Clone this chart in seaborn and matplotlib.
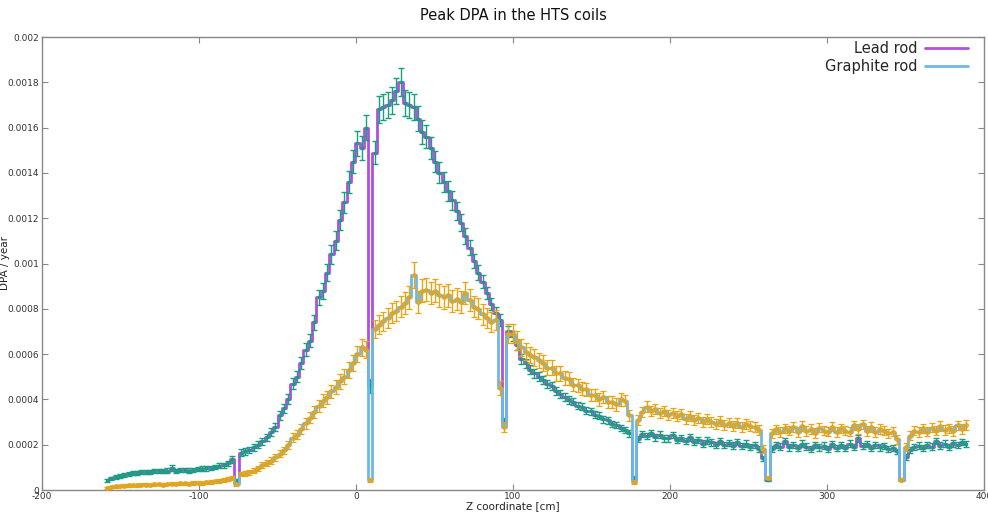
import numpy as np
import pandas as pd
import matplotlib
matplotlib.use("Agg")
import matplotlib.pyplot as plt
import seaborn as sns
from matplotlib.ticker import FuncFormatter, MultipleLocator

# ---- binning of the Z coordinate (cm) ----
BIN_START_CM = -160.0
BIN_WIDTH_CM = 2.75

# ---- peak DPA / year, in units of 1e-6 ----
lead_e6 = [
    42, 52, 58, 62, 66, 70, 74, 76, 78, 80,
    79, 82, 84, 83, 86, 98, 85, 87, 88, 86,
    90, 92, 94, 96, 98, 101, 106, 110, 118, 135,
    42, 165, 170, 178, 188, 200, 215, 232, 255, 278,
    330, 360, 400, 470, 500, 560, 620, 660, 740, 850,
    880, 960, 1040, 1100, 1190, 1270, 1360, 1450, 1530, 1510,
    1600, 460, 1490, 1680, 1690, 1700, 1720, 1760, 1800, 1710,
    1700, 1690, 1640, 1580, 1560, 1510, 1450, 1400, 1360, 1320,
    1280, 1230, 1180, 1120, 1070, 1010, 960, 920, 870, 820,
    780, 750, 300, 700, 680, 640, 580, 560, 530, 515,
    500, 485, 468, 460, 438, 425, 412, 398, 390, 372,
    368, 350, 348, 332, 328, 312, 308, 292, 288, 275,
    265, 250, 55, 225, 248, 238, 252, 232, 245, 228,
    228, 242, 222, 230, 215, 232, 212, 220, 205, 218,
    210, 200, 215, 198, 208, 196, 212, 194, 205, 190,
    198, 182, 140, 45, 180, 200, 192, 215, 188, 200,
    185, 205, 192, 182, 200, 188, 196, 180, 202, 186,
    198, 185, 205, 190, 228, 195, 202, 185, 200, 188,
    195, 180, 186, 170, 45, 145, 178, 190, 196, 184,
    200, 192, 215, 196, 205, 190, 206, 198, 212, 202,
]
lead_err_e6 = [
    7, 7, 8, 8, 8, 8, 9, 9, 9, 9,
    9, 9, 9, 9, 9, 12, 9, 9, 9, 9,
    9, 9, 10, 10, 10, 10, 11, 11, 12, 14,
    7, 14, 14, 14, 15, 15, 16, 16, 17, 18,
    20, 20, 22, 24, 24, 26, 28, 30, 32, 34,
    36, 38, 40, 42, 44, 46, 48, 50, 54, 52,
    55, 32, 52, 58, 58, 58, 58, 58, 62, 58,
    58, 58, 54, 52, 50, 50, 48, 46, 44, 44,
    42, 40, 38, 36, 34, 32, 32, 30, 28, 27,
    26, 26, 16, 24, 24, 22, 22, 20, 20, 20,
    19, 19, 18, 18, 18, 17, 17, 17, 16, 16,
    16, 16, 15, 15, 15, 15, 15, 14, 14, 14,
    14, 14, 7, 14, 14, 14, 14, 14, 14, 14,
    14, 14, 14, 14, 14, 14, 14, 14, 14, 14,
    14, 14, 14, 14, 14, 14, 14, 14, 14, 14,
    14, 14, 11, 7, 14, 14, 14, 14, 14, 14,
    14, 14, 14, 14, 14, 14, 14, 14, 14, 14,
    14, 14, 14, 14, 15, 14, 14, 14, 14, 14,
    14, 14, 14, 13, 7, 12, 14, 14, 14, 14,
    14, 14, 14, 14, 14, 14, 14, 14, 14, 14,
]
graphite_e6 = [
    10, 14, 16, 18, 19, 20, 22, 21, 23, 24,
    22, 25, 26, 24, 27, 28, 26, 29, 30, 28,
    31, 32, 30, 34, 36, 38, 40, 44, 48, 55,
    25, 70, 72, 78, 85, 95, 110, 118, 130, 145,
    160, 175, 200, 230, 245, 270, 295, 320, 345, 370,
    395, 410, 435, 455, 480, 500, 530, 560, 600, 630,
    620, 45, 710, 730, 745, 760, 780, 790, 810, 825,
    850, 950, 830, 880, 885, 870, 880, 860, 850, 860,
    835, 845, 830, 870, 840, 810, 800, 775, 760, 740,
    750, 450, 280, 690, 690, 660, 630, 610, 595, 585,
    572, 560, 540, 540, 515, 515, 495, 492, 465, 462,
    448, 445, 420, 420, 400, 412, 390, 390, 378, 400,
    395, 330, 35, 310, 345, 368, 350, 358, 340, 348,
    332, 342, 325, 335, 315, 328, 308, 318, 300, 312,
    302, 292, 306, 285, 298, 282, 296, 278, 290, 284,
    278, 265, 180, 55, 250, 268, 255, 272, 262, 278,
    255, 282, 260, 270, 252, 275, 262, 258, 280, 255,
    272, 262, 258, 285, 268, 290, 260, 278, 255, 270,
    262, 250, 258, 225, 45, 190, 240, 262, 255, 272,
    258, 275, 262, 282, 265, 272, 260, 285, 270, 288,
]
graphite_err_e6 = [
    5, 5, 5, 6, 6, 6, 6, 6, 6, 6,
    6, 6, 6, 6, 6, 7, 6, 7, 7, 7,
    7, 7, 7, 7, 8, 8, 8, 8, 9, 9,
    6, 10, 10, 11, 11, 12, 13, 13, 14, 15,
    16, 17, 18, 20, 22, 22, 24, 25, 26, 27,
    28, 29, 30, 31, 32, 33, 34, 35, 36, 38,
    38, 9, 40, 42, 42, 44, 44, 46, 47, 48,
    50, 58, 48, 50, 52, 50, 50, 50, 49, 50,
    48, 49, 48, 50, 48, 47, 46, 45, 44, 44,
    44, 32, 22, 42, 42, 40, 38, 37, 36, 36,
    35, 34, 34, 33, 32, 32, 31, 30, 30, 29,
    29, 28, 28, 27, 27, 26, 26, 26, 28, 27,
    26, 24, 7, 22, 23, 23, 23, 23, 23, 23,
    22, 22, 22, 22, 22, 22, 22, 22, 22, 22,
    22, 22, 22, 22, 22, 22, 22, 22, 22, 22,
    21, 21, 17, 7, 21, 21, 21, 21, 21, 21,
    21, 21, 21, 21, 21, 21, 21, 21, 21, 21,
    21, 21, 21, 21, 22, 21, 21, 21, 21, 21,
    21, 21, 21, 20, 7, 17, 21, 21, 21, 21,
    21, 21, 21, 21, 21, 21, 21, 21, 21, 21,
]

series_labels = ["Lead rod", "Graphite rod"]
title = "Peak DPA in the HTS coils"
xlabel = "Z coordinate [cm]"
ylabel = "DPA / year"

PURPLE = "#b24ee0"
GREEN = "#16a07e"
BLUE = "#6cb8e8"
ORANGE = "#e8a413"

n = len(lead_e6)
z = BIN_START_CM + BIN_WIDTH_CM * (np.arange(n) + 0.5)
df = pd.DataFrame({
    "z": z,
    "lead": np.array(lead_e6) * 1e-6,
    "lead_err": np.array(lead_err_e6) * 1e-6,
    "graphite": np.array(graphite_e6) * 1e-6,
    "graphite_err": np.array(graphite_err_e6) * 1e-6,
})

sns.set_style("white")
plt.rcParams["font.family"] = ["DejaVu Sans"]

W, H = 988, 519
fig = plt.figure(figsize=(W / 100, H / 100), dpi=100)
ax = fig.add_axes([42 / W, 29 / H, 942 / W, 453 / H])

sns.lineplot(data=df, x="z", y="lead", ax=ax, color=PURPLE, lw=2.0,
             drawstyle="steps-mid", estimator=None, label=series_labels[0],
             zorder=2)
ax.errorbar(df["z"], df["lead"], yerr=df["lead_err"], fmt="s", ms=2.0,
            color=GREEN, ecolor=GREEN, elinewidth=1.0, capsize=2.0,
            capthick=1.0, zorder=3)
sns.lineplot(data=df, x="z", y="graphite", ax=ax, color=BLUE, lw=2.0,
             drawstyle="steps-mid", estimator=None, label=series_labels[1],
             zorder=4)
ax.errorbar(df["z"], df["graphite"], yerr=df["graphite_err"], fmt="o",
            ms=2.6, mfc="none", mew=0.9, color=ORANGE, ecolor=ORANGE,
            elinewidth=1.0, capsize=2.0, capthick=1.0, zorder=5)

ax.set_xlim(-200, 400)
ax.set_ylim(0, 0.002)
ax.xaxis.set_major_locator(MultipleLocator(100))
ax.yaxis.set_major_locator(MultipleLocator(0.0002))
ax.yaxis.set_major_formatter(FuncFormatter(lambda v, _: f"{v:g}"))
ax.xaxis.set_major_formatter(FuncFormatter(lambda v, _: f"{v:g}"))

ax.tick_params(direction="in", length=4, width=0.8, colors="#888888",
               labelcolor="#333333", labelsize=6.5, pad=2,
               top=True, right=True, bottom=True, left=True)
ax.tick_params(axis="x", pad=1.5)
for sp in ax.spines.values():
    sp.set_color("#888888")
    sp.set_linewidth(1.0)

ax.set_xlabel(xlabel, fontsize=7.5, color="#222222", labelpad=0)
ax.set_ylabel(ylabel, fontsize=7.5, color="#222222")
ax.yaxis.set_label_coords((10 - 42) / 942, 0.5)
ax.set_title(title, fontsize=10.5, color="#111111", pad=12)

handles, labels = ax.get_legend_handles_labels()
ax.legend(handles, labels, loc="upper right", frameon=False,
          bbox_to_anchor=(1 - 7 / 942, 1 + 5 / 453),
          markerfirst=False, fontsize=10.5, handlelength=3.0,
          handletextpad=0.5, borderaxespad=0.2, labelspacing=0.25)

fig.savefig("out.png", dpi=100)
